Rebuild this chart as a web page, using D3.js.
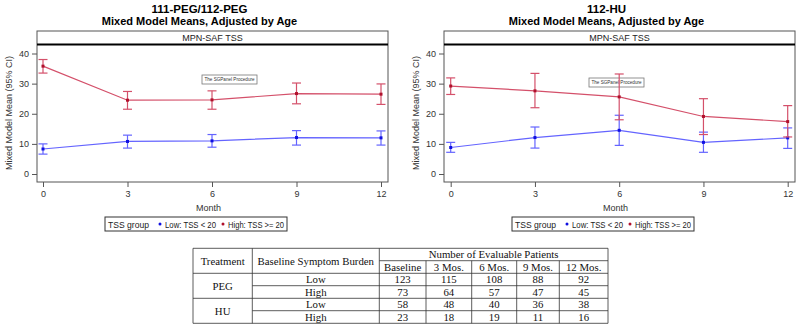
<!DOCTYPE html>
<html>
<head>
<meta charset="utf-8">
<script src="https://cdn.jsdelivr.net/npm/d3@7"></script>
<style>
  body { margin: 0; background: #fff; }
  svg { display: block; font-family: "Liberation Sans", Arial, sans-serif; }
</style>
</head>
<body>
<div id="chart"></div>
<script>
// data
var months = [0, 3, 6, 9, 12];

var pegLow      = [8.3, 10.8, 11.0, 12.1, 12.0];
var pegLowLo    = [6.6, 8.6, 8.9, 9.6, 9.6];
var pegLowHi    = [10.0, 12.9, 13.1, 14.4, 14.3];
var pegHigh     = [35.8, 24.5, 24.6, 26.7, 26.5];
var pegHighLo   = [33.5, 21.5, 21.5, 23.3, 23.1];
var pegHighHi   = [38.0, 27.4, 27.6, 30.2, 29.9];

var huLow       = [8.8, 12.1, 14.5, 10.5, 12.0];
var huLowLo     = [7.2, 8.6, 9.5, 7.2, 8.5];
var huLowHi     = [10.5, 15.6, 19.5, 13.9, 15.3];
var huHigh      = [29.2, 27.6, 25.6, 19.1, 17.4];
var huHighLo    = [26.4, 22.0, 18.0, 13.1, 12.3];
var huHighHi    = [31.9, 33.4, 33.2, 25.0, 22.7];

var yTicks = [0, 10, 20, 30, 40];
var panelTitles = ["111-PEG/112-PEG", "112-HU"];

var tableCols = ["Baseline", "3 Mos.", "6 Mos.", "9 Mos.", "12 Mos."];
var tableTreat = ["PEG", "HU"];
var tableBurden = ["Low", "High"];
var pegCounts = [[123, 115, 108, 88, 92], [73, 64, 57, 47, 45]];
var huCounts  = [[58, 48, 40, 36, 38], [23, 18, 19, 11, 16]];

var blueLine = "#6464ff", blueMark = "#1010e0";
var redLine = "#d4506a", redMark = "#b0102c";

var svg = d3.select("#chart").append("svg")
  .attr("width", 800).attr("height", 325);

var y = d3.scaleLinear().domain([0, 40]).range([174, 53.5]);

var panels = [
  {title: panelTitles[0], left: 37, right: 388, x: d3.scaleLinear().domain([0, 12]).range([43, 381]),
   low: [pegLow, pegLowLo, pegLowHi], high: [pegHigh, pegHighLo, pegHighHi], note: [202, 75]},
  {title: panelTitles[1], left: 444, right: 795, x: d3.scaleLinear().domain([0, 12]).range([450.7, 787.7]),
   low: [huLow, huLowLo, huLowHi], high: [huHigh, huHighLo, huHighHi], note: [589, 78]}
];

panels.forEach(function(p) {
  var cx = (p.left + p.right) / 2 - 13;
  var g = svg.append("g");

  g.append("text").attr("x", cx).attr("y", 13).attr("text-anchor", "middle")
    .attr("font-size", 11.5).attr("font-weight", "bold").text(p.title);
  g.append("text").attr("x", cx).attr("y", 25).attr("text-anchor", "middle")
    .attr("font-size", 11).attr("font-weight", "bold").text("Mixed Model Means, Adjusted by Age");

  // header strip
  g.append("rect").attr("x", p.left).attr("y", 31).attr("width", p.right - p.left).attr("height", 151)
    .attr("fill", "none").attr("stroke", "#555").attr("stroke-width", 1);
  g.append("line").attr("x1", p.left).attr("x2", p.right).attr("y1", 44.5).attr("y2", 44.5)
    .attr("stroke", "#000").attr("stroke-width", 2);
  g.append("text").attr("x", (p.left + p.right) / 2).attr("y", 40.5).attr("text-anchor", "middle")
    .attr("font-size", 9).attr("fill", "#222").text("MPN-SAF TSS");

  // axes
  var ya = g.append("g").attr("transform", "translate(" + p.left + ",0)")
    .call(d3.axisLeft(y).tickValues(yTicks).tickSize(5).tickPadding(3));
  ya.select(".domain").remove();
  ya.selectAll("text").attr("font-size", 9).attr("fill", "#333").attr("font-family", "Liberation Sans, Arial");
  ya.selectAll("line").attr("stroke", "#555");

  var xa = g.append("g").attr("transform", "translate(0,182)")
    .call(d3.axisBottom(p.x).tickValues(months).tickSize(5).tickPadding(4));
  xa.select(".domain").remove();
  xa.selectAll("text").attr("font-size", 9).attr("fill", "#333").attr("font-family", "Liberation Sans, Arial");
  xa.selectAll("line").attr("stroke", "#555");

  g.append("text").attr("transform", "translate(" + (p.left - 25) + ",113) rotate(-90)")
    .attr("text-anchor", "middle").attr("font-size", 9).attr("fill", "#333")
    .text("Mixed Model Mean (95% CI)");
  g.append("text").attr("x", (p.left + p.right) / 2 - 4).attr("y", 211).attr("text-anchor", "middle")
    .attr("font-size", 9).attr("fill", "#333").text("Month");

  // procedure note
  g.append("rect").attr("x", p.note[0]).attr("y", p.note[1]).attr("width", 55).attr("height", 9)
    .attr("fill", "#fff").attr("stroke", "#777").attr("stroke-width", 0.8);
  g.append("text").attr("x", p.note[0] + 27.5).attr("y", p.note[1] + 6).attr("text-anchor", "middle")
    .attr("font-size", 4.6).attr("fill", "#333").text("The SGPanel Procedure");

  // series
  [[p.low, blueLine, blueMark], [p.high, redLine, redMark]].forEach(function(s) {
    var vals = s[0][0], lo = s[0][1], hi = s[0][2];
    var line = d3.line().x(function(d, i) { return p.x(months[i]); }).y(function(d) { return y(d); });
    g.append("path").datum(vals).attr("d", line).attr("fill", "none")
      .attr("stroke", s[1]).attr("stroke-width", 1.2);
    months.forEach(function(m, i) {
      var xx = p.x(m);
      g.append("line").attr("x1", xx).attr("x2", xx).attr("y1", y(lo[i])).attr("y2", y(hi[i]))
        .attr("stroke", s[1]).attr("stroke-width", 1.2);
      [lo[i], hi[i]].forEach(function(v) {
        g.append("line").attr("x1", xx - 4.5).attr("x2", xx + 4.5).attr("y1", y(v)).attr("y2", y(v))
          .attr("stroke", s[1]).attr("stroke-width", 1.2);
      });
      g.append("rect").attr("x", xx - 1.5).attr("y", y(vals[i]) - 1.5).attr("width", 3).attr("height", 3)
        .attr("fill", s[2]);
    });
  });

  // legend
  var lx = p.left + 68;
  var lg = g.append("g");
  lg.append("rect").attr("x", lx).attr("y", 217).attr("width", 182).attr("height", 14)
    .attr("fill", "#fff").attr("stroke", "#333").attr("stroke-width", 1);
  lg.append("text").attr("x", lx + 3).attr("y", 227.5).attr("font-size", 9).attr("fill", "#222")
    .attr("textLength", 41).attr("lengthAdjust", "spacingAndGlyphs").text("TSS group");
  lg.append("circle").attr("cx", lx + 55).attr("cy", 224).attr("r", 1.5).attr("fill", blueMark);
  lg.append("text").attr("x", lx + 60).attr("y", 227.5).attr("font-size", 8.5).attr("fill", "#222")
    .attr("textLength", 51).attr("lengthAdjust", "spacingAndGlyphs").text("Low: TSS < 20");
  lg.append("circle").attr("cx", lx + 118).attr("cy", 224).attr("r", 1.5).attr("fill", redMark);
  lg.append("text").attr("x", lx + 123).attr("y", 227.5).attr("font-size", 8.5).attr("fill", "#222")
    .attr("textLength", 56).attr("lengthAdjust", "spacingAndGlyphs").text("High: TSS >= 20");
});

// table of evaluable patients
var tb = svg.append("g").attr("font-family", "Liberation Serif, Times New Roman, serif")
  .attr("font-size", 10.8).attr("fill", "#111");
var colX = [193, 252.3, 379.3, 426, 471.7, 516.7, 559.3, 608];
var rowY = [248.3, 260.7, 273.3, 285.7, 298.3, 310.7, 323.3];
function hl(x1, x2, yy) {
  tb.append("line").attr("x1", x1).attr("x2", x2).attr("y1", yy).attr("y2", yy).attr("stroke", "#333").attr("stroke-width", 0.8);
}
function vl(xx, y1, y2) {
  tb.append("line").attr("x1", xx).attr("x2", xx).attr("y1", y1).attr("y2", y2).attr("stroke", "#333").attr("stroke-width", 0.8);
}
hl(colX[0], colX[7], rowY[0]);
hl(colX[2], colX[7], rowY[1]);
hl(colX[0], colX[7], rowY[2]);
hl(colX[1], colX[7], rowY[3]);
hl(colX[0], colX[7], rowY[4]);
hl(colX[1], colX[7], rowY[5]);
hl(colX[0], colX[7], rowY[6]);
vl(colX[0], rowY[0], rowY[6]);
vl(colX[1], rowY[0], rowY[6]);
vl(colX[2], rowY[0], rowY[6]);
for (var c = 3; c < 7; c++) vl(colX[c], rowY[1], rowY[6]);
vl(colX[7], rowY[0], rowY[6]);

function cell(txt, x1, x2, yy) {
  tb.append("text").attr("x", (x1 + x2) / 2).attr("y", yy).attr("text-anchor", "middle").text(txt);
}
cell("Treatment", colX[0], colX[1], 264.8);
cell("Baseline Symptom Burden", colX[1], colX[2], 264.8);
cell("Number of Evaluable Patients", colX[2], colX[7], 258.2);
tableCols.forEach(function(t, i) { cell(t, colX[i + 2], colX[i + 3], 270.7); });
[pegCounts, huCounts].forEach(function(counts, ti) {
  var top = rowY[2 + ti * 2];
  cell(tableTreat[ti], colX[0], colX[1], top + 16.3);
  counts.forEach(function(row, ri) {
    var yy = rowY[2 + ti * 2 + ri] + 9.8;
    cell(tableBurden[ri], colX[1], colX[2], yy);
    row.forEach(function(v, ci) { cell(v, colX[ci + 2], colX[ci + 3], yy); });
  });
});
</script>
</body>
</html>
